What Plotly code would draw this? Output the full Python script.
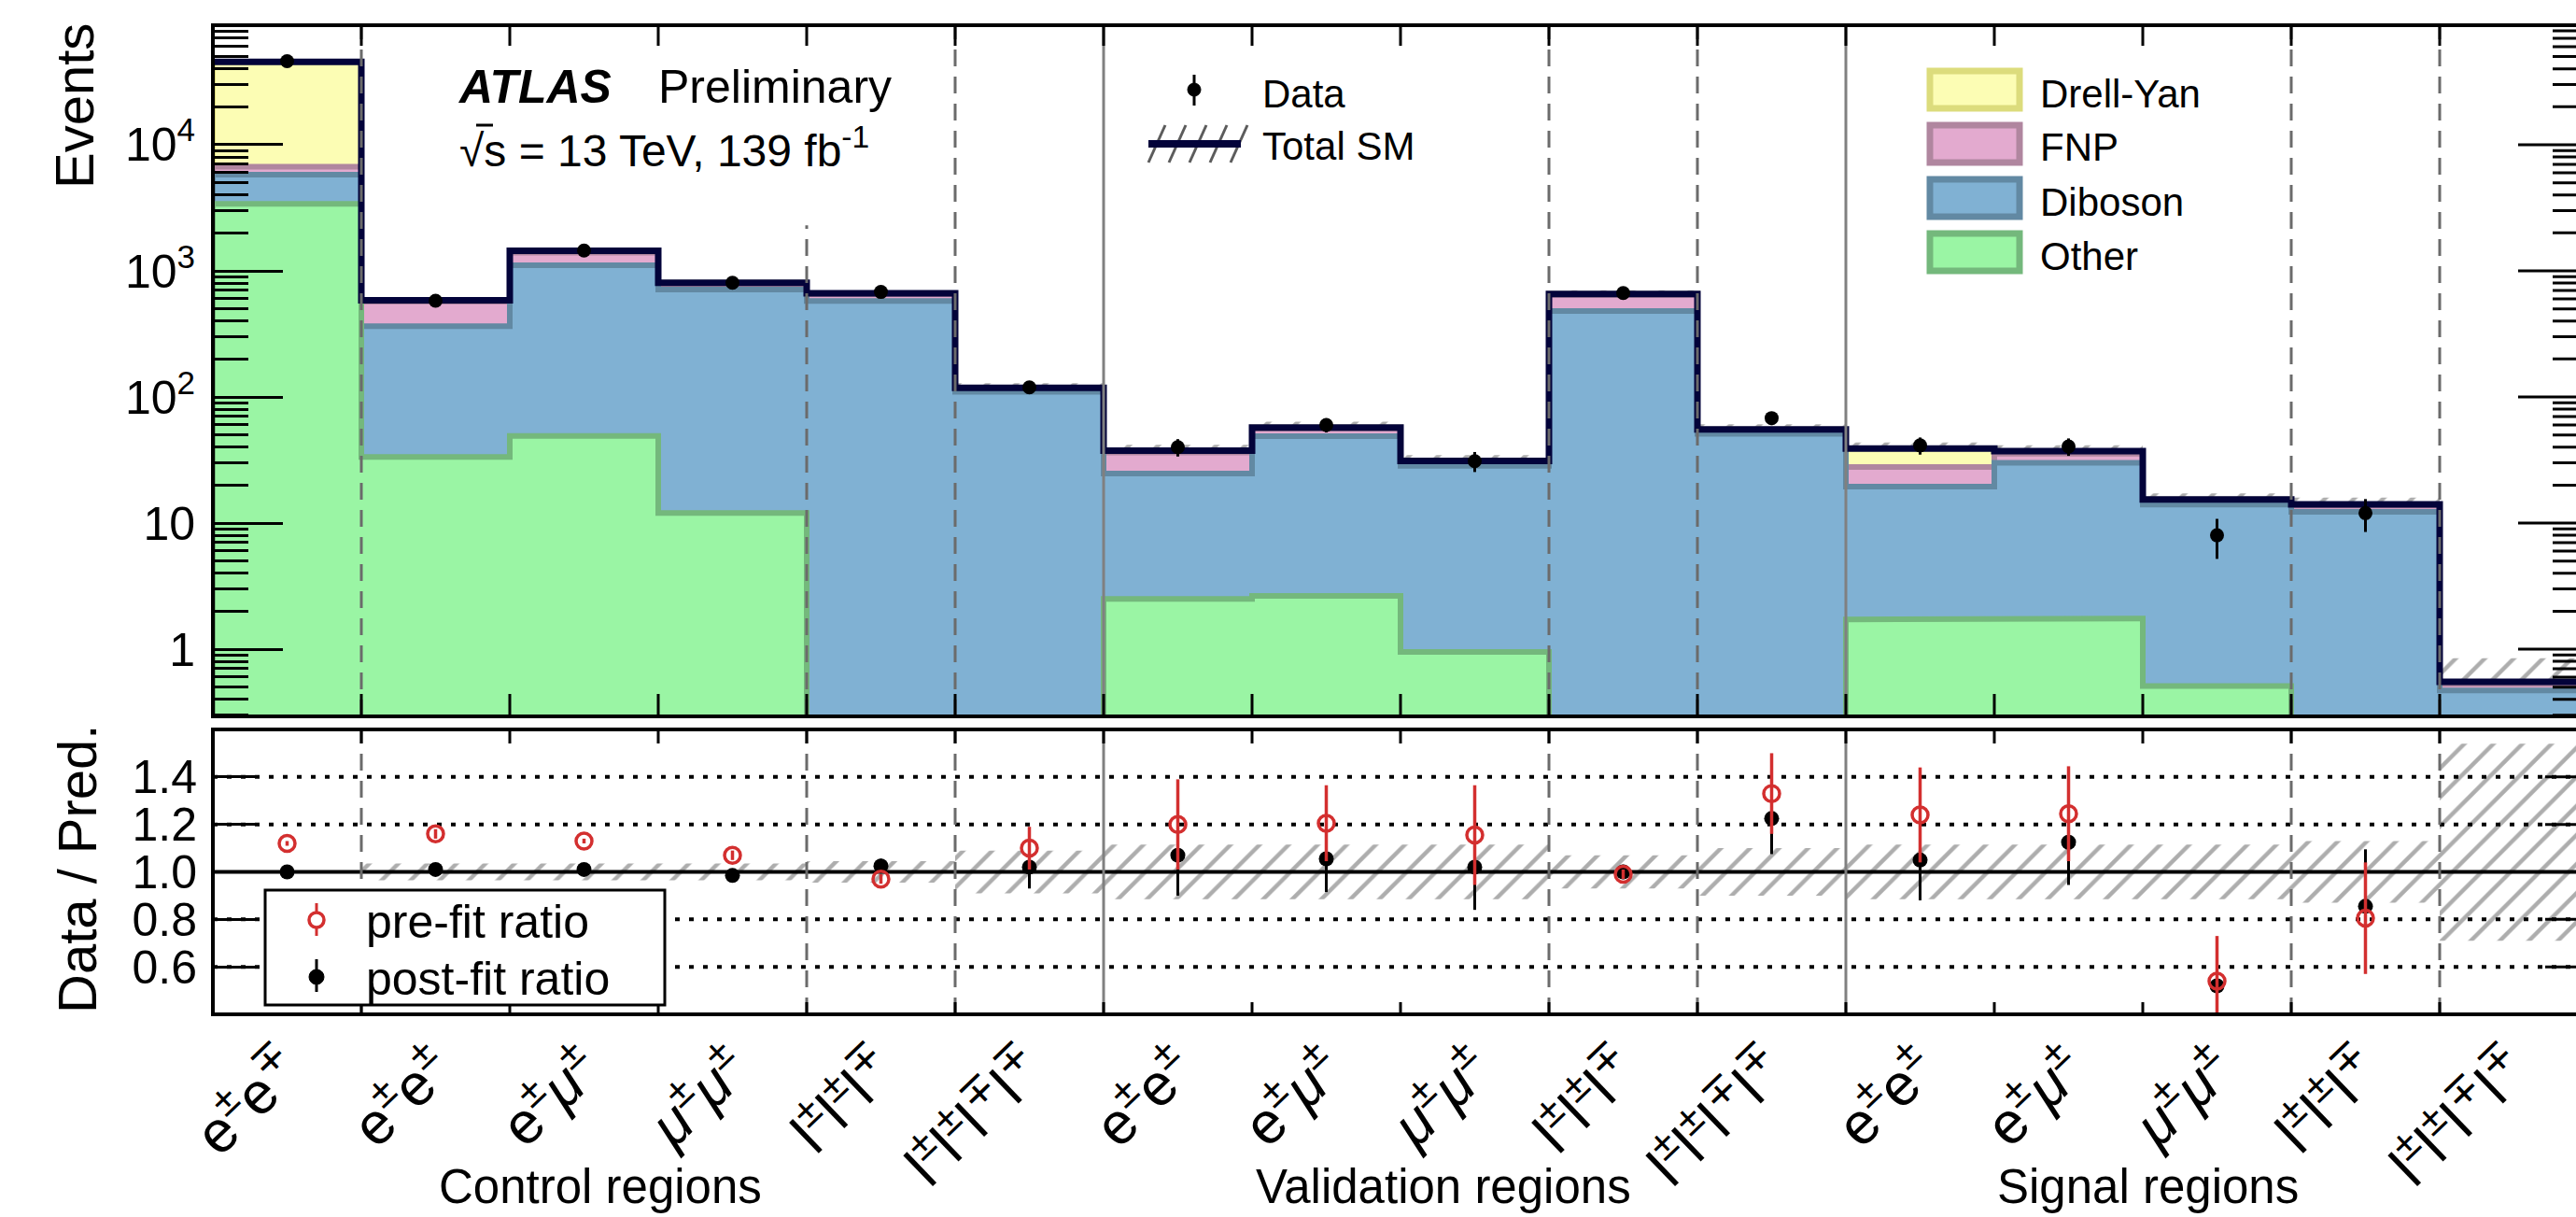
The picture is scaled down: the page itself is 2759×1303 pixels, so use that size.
import numpy as np
import plotly.graph_objects as go

# ------------------------------------------------------------------ data
bin_labels = [
    "e<sup>±</sup>e<sup>∓</sup>", "e<sup>±</sup>e<sup>±</sup>", "e<sup>±</sup><i>μ</i><sup>±</sup>",
    "<i>μ</i><sup>±</sup><i>μ</i><sup>±</sup>", "l<sup>±</sup>l<sup>±</sup>l<sup>∓</sup>",
    "l<sup>±</sup>l<sup>±</sup>l<sup>∓</sup>l<sup>∓</sup>",
    "e<sup>±</sup>e<sup>±</sup>", "e<sup>±</sup><i>μ</i><sup>±</sup>",
    "<i>μ</i><sup>±</sup><i>μ</i><sup>±</sup>", "l<sup>±</sup>l<sup>±</sup>l<sup>∓</sup>",
    "l<sup>±</sup>l<sup>±</sup>l<sup>∓</sup>l<sup>∓</sup>",
    "e<sup>±</sup>e<sup>±</sup>", "e<sup>±</sup><i>μ</i><sup>±</sup>",
    "<i>μ</i><sup>±</sup><i>μ</i><sup>±</sup>", "l<sup>±</sup>l<sup>±</sup>l<sup>∓</sup>",
    "l<sup>±</sup>l<sup>±</sup>l<sup>∓</sup>l<sup>∓</sup>",
]
region_names = ["Control regions", "Validation regions", "Signal regions"]

other    = [3400, 33.5, 49, 12, 0, 0, 2.5, 2.65, 0.95, 0, 0, 1.72, 1.75, 0.51, 0, 0]
diboson  = [2400, 331, 1058, 699, 578, 110, 22.2, 46.3, 27.5, 480, 51, 17.7, 28.3, 13.5, 12.3, 0.47]
fnp      = [900, 205, 290, 75, 75, 7, 11.5, 7, 2.2, 165, 3.5, 8.4, 5.5, 1.2, 1.5, 0.06]
drellyan = [38800, 15, 45, 20, 12, 1, 1.3, 1.2, 0.4, 11, 0.7, 11.2, 1.6, 0.2, 0.3, 0.02]

data_obs = [46000, 580, 1450, 805, 680, 119, 40, 60, 31, 667, 68, 41.3, 40.5, 8, 12, None]
data_err = [214, 24, 38, 28, 26, 11, 6.3, 7.7, 5.6, 26, 8.2, 6.4, 6.4, 2.8, 3.5, None]

# relative uncertainty on the total SM prediction
unc_up = [0.005, 0.035, 0.035, 0.035, 0.045, 0.09, 0.115, 0.115, 0.115, 0.07, 0.1, 0.115, 0.115, 0.115, 0.13, 0.54]
unc_dn = [0.005, 0.035, 0.035, 0.035, 0.045, 0.09, 0.115, 0.115, 0.115, 0.07, 0.1, 0.115, 0.115, 0.115, 0.13, 0.29]

prefit_ratio  = [1.12, 1.16, 1.13, 1.07, 0.97, 1.10, 1.20, 1.205, 1.155, 0.99, 1.33, 1.24, 1.245, 0.54, 0.805, None]
prefit_err    = [0.01, 0.02, 0.01, 0.02, 0.02, 0.09, 0.19, 0.16, 0.21, 0.02, 0.17, 0.2, 0.2, 0.19, 0.235, None]
postfit_ratio = [1.00, 1.01, 1.01, 0.985, 1.025, 1.02, 1.07, 1.055, 1.02, 1.0, 1.225, 1.05, 1.125, 0.52, 0.855, None]
postfit_err   = [0.005, 0.02, 0.01, 0.02, 0.03, 0.09, 0.17, 0.14, 0.18, 0.03, 0.15, 0.17, 0.18, 0.19, 0.24, None]

# ------------------------------------------------------------------ layout constants
W, H = 2759, 1303
L = 228                      # left edge of the frame
PW = W - L
NB = len(bin_labels)
BIN_PX = 159.0
X_MAX = PW / BIN_PX          # the frame runs past the right edge of the page

LOG_TOP, LOG_BOT = 4.948, -0.533
R_LO, R_HI = 0.4, 1.6
TOP_PX, MID1_PX, MID2_PX, BOT_PX = 27, 767, 781, 1086
DEC_PX = (MID1_PX - TOP_PX) / (LOG_TOP - LOG_BOT)
R_PX = (BOT_PX - MID2_PX) / (R_HI - R_LO)

FONT = "Liberation Sans"
NAVY = "#03033a"
RED = "#d32f2f"
SEP_GRAY = "#6b6b6b"
HATCH_GRAY = "#5c5c5c"

components = [  # drawn from the top of the stack downwards
    ("Drell-Yan", drellyan, "#fcfdb4", "#dcdc7c"),
    ("FNP", fnp, "#e3aacf", "#b0869f"),
    ("Diboson", diboson, "#80b1d3", "#6289a3"),
    ("Other", other, "#9af5a4", "#74b87c"),
]


def px_x(px):
    return (px - L) / PW


def px_y(py):
    return (H - py) / H


edges = np.arange(NB + 1)
centers = edges[:-1] + 0.5
FLOOR = 1e-3

fig = go.Figure()

# ------------------------------------------------------------------ stacked backgrounds
stack = np.zeros(NB)
cumulative = []
for name, vals, fill, line in components[::-1]:
    stack = stack + np.array(vals, dtype=float)
    cumulative.append((name, stack.copy(), fill, line))
cumulative = cumulative[::-1]
total = cumulative[0][1]


def step_xy(vals):
    xs, ys = [], []
    for i, v in enumerate(vals):
        v = max(v, FLOOR)
        xs += [edges[i], edges[i + 1]]
        ys += [v, v]
    return xs, ys


for name, cum, fill, line in cumulative:
    xs, ys = step_xy(cum)
    fig.add_trace(go.Scatter(
        x=[0] + xs + [NB, 0], y=[FLOOR] + ys + [FLOOR, FLOOR],
        fill="toself", fillcolor=fill, mode="lines", line=dict(width=0),
        hoverinfo="skip", showlegend=False, xaxis="x", yaxis="y"))
    fig.add_trace(go.Scatter(
        x=[0] + xs + [NB], y=[FLOOR] + ys + [FLOOR], mode="lines",
        line=dict(color=line, width=6), hoverinfo="skip", showlegend=False,
        xaxis="x", yaxis="y"))

# total SM line
xs, ys = step_xy(total)
fig.add_trace(go.Scatter(x=xs, y=ys, mode="lines", line=dict(color=NAVY, width=7),
                         showlegend=False, hoverinfo="skip", xaxis="x", yaxis="y"))

hatch = dict(color="rgba(0,0,0,0)",
             pattern=dict(shape="/", fgcolor=HATCH_GRAY, size=22, solidity=0.2, fillmode="overlay"),
             line=dict(width=0))
fig.add_trace(go.Bar(
    x=centers, base=total * (1 - np.array(unc_dn)),
    y=total * (np.array(unc_up) + np.array(unc_dn)), width=1.0,
    marker=hatch, showlegend=False, hoverinfo="skip", xaxis="x", yaxis="y"))

# ratio band
fig.add_trace(go.Bar(
    x=centers, base=1 - np.array(unc_dn), y=np.array(unc_up) + np.array(unc_dn), width=1.0,
    marker=hatch, showlegend=False, hoverinfo="skip", xaxis="x2", yaxis="y2"))

# ------------------------------------------------------------------ region separators
dashed_edges = [1, 4, 5, 9, 10, 14, 15]
solid_edges = [6, 11]
dashed_top = {4: 2300}
y_top, y_bot = 10 ** LOG_TOP, 10 ** LOG_BOT


def seg_trace(xp, yp, color, width, dash, xa, ya):
    return go.Scatter(x=xp, y=yp, mode="lines", line=dict(color=color, width=width, dash=dash),
                      hoverinfo="skip", showlegend=False, xaxis=xa, yaxis=ya)


# ratio reference lines
xl, yl = [], []
for r in [0.6, 0.8, 1.2, 1.4]:
    xl += [0, NB, None]
    yl += [r, r, None]
fig.add_trace(seg_trace(xl, yl, "black", 4, "5px,10px", "x2", "y2"))
fig.add_trace(seg_trace([0, NB], [1, 1], "black", 4, None, "x2", "y2"))

for ya, lo, hi in [("y", y_bot, y_top), ("y2", R_LO, R_HI)]:
    xa = "x" if ya == "y" else "x2"
    xd, yd = [], []
    for k in dashed_edges:
        top = dashed_top.get(k, hi) if ya == "y" else hi
        xd += [k, k, None]
        yd += [lo, top, None]
    fig.add_trace(seg_trace(xd, yd, SEP_GRAY, 3, "18px,11px", xa, ya))
    xs_, ys_ = [], []
    for k in solid_edges:
        xs_ += [k, k, None]
        ys_ += [lo, hi, None]
    fig.add_trace(seg_trace(xs_, ys_, "#808080", 3, None, xa, ya))

# ------------------------------------------------------------------ data points
fig.add_trace(go.Scatter(
    x=centers, y=data_obs, mode="markers",
    marker=dict(color="black", size=15),
    error_y=dict(type="data", array=data_err, color="black", thickness=3, width=0),
    showlegend=False, hoverinfo="skip", xaxis="x", yaxis="y"))

fig.add_trace(go.Scatter(
    x=centers, y=postfit_ratio, mode="markers",
    marker=dict(color="black", size=16),
    error_y=dict(type="data", array=postfit_err, color="black", thickness=3, width=0),
    showlegend=False, hoverinfo="skip", xaxis="x2", yaxis="y2"))
fig.add_trace(go.Scatter(
    x=centers, y=prefit_ratio, mode="markers",
    marker=dict(color=RED, size=17, symbol="circle-open", line=dict(color=RED, width=3.5)),
    error_y=dict(type="data", array=prefit_err, color=RED, thickness=3.5, width=0),
    showlegend=False, hoverinfo="skip", xaxis="x2", yaxis="y2"))

# ------------------------------------------------------------------ tick marks on the frame
def ticks_trace(segs, xa, ya):
    xp, yp = [], []
    for (x0, y0, x1, y1) in segs:
        xp += [x0, x1, None]
        yp += [y0, y1, None]
    return go.Scatter(x=xp, y=yp, mode="lines", line=dict(color="black", width=3),
                      hoverinfo="skip", showlegend=False, xaxis=xa, yaxis=ya)


segs = []
major_len, minor_len = 75 / BIN_PX, 38 / BIN_PX
for d in range(-1, 5):
    for m in range(1, 10):
        v = m * 10.0 ** d
        if not (y_bot <= v <= y_top):
            continue
        ln = major_len if m == 1 else minor_len
        segs.append((NB - ln, v, NB, v))
for k in range(1, NB):
    segs.append((k, 10 ** (LOG_TOP - 22 / DEC_PX), k, y_top))
    segs.append((k, y_bot, k, 10 ** (LOG_BOT + 24 / DEC_PX)))
fig.add_trace(ticks_trace(segs, "x", "y"))

segs = []
for r in [0.6, 0.8, 1.0, 1.2, 1.4]:
    segs.append((NB - 46 / BIN_PX, r, NB, r))
for k in range(1, NB):
    segs.append((k, R_HI - 15 / R_PX, k, R_HI))
    segs.append((k, R_LO, k, R_LO + 13 / R_PX))
fig.add_trace(ticks_trace(segs, "x2", "y2"))

# ------------------------------------------------------------------ axes
minor_vals = [m * 10.0 ** d for d in range(-1, 5) for m in range(2, 10) if y_bot <= m * 10.0 ** d <= y_top]
fig.update_layout(
    width=W, height=H, margin=dict(l=L, r=0, t=0, b=0),
    paper_bgcolor="white", plot_bgcolor="white", barmode="overlay", showlegend=False,
    font=dict(family=FONT, color="black"),
    xaxis=dict(domain=[0, 1], range=[0, X_MAX], showticklabels=False, ticks="",
               showgrid=False, zeroline=False, showline=False, anchor="y"),
    yaxis=dict(domain=[px_y(MID1_PX), px_y(TOP_PX)], type="log", range=[LOG_BOT, LOG_TOP],
               tickmode="array", tickvals=[1, 10, 100, 1000, 10000],
               ticktext=["1", "10", "10<sup>2</sup>", "10<sup>3</sup>", "10<sup>4</sup>"],
               ticks="inside", ticklen=75, tickwidth=3, tickcolor="black",
               minor=dict(tickvals=minor_vals, ticks="inside", ticklen=38, tickwidth=3, tickcolor="black"),
               ticklabelstandoff=18, tickfont=dict(size=50, family=FONT),
               showgrid=False, zeroline=False, showline=False, anchor="x"),
    xaxis2=dict(domain=[0, 1], range=[0, X_MAX], tickmode="array", tickvals=centers,
                ticktext=bin_labels, tickangle=-44, ticks="", ticklabelstandoff=8,
                tickfont=dict(size=63, family=FONT),
                showgrid=False, zeroline=False, showline=False, anchor="y2"),
    yaxis2=dict(domain=[px_y(BOT_PX), px_y(MID2_PX)], range=[R_LO, R_HI],
                tickmode="array", tickvals=[0.6, 0.8, 1.0, 1.2, 1.4],
                ticktext=["0.6", "0.8", "1.0", "1.2", "1.4"],
                ticks="inside", ticklen=46, tickwidth=3, tickcolor="black",
                ticklabelstandoff=16, tickfont=dict(size=50, family=FONT),
                showgrid=False, zeroline=False, showline=False, anchor="x2"),
)

shapes = []
ann = []


def pline(x0, y0, x1, y1, color="black", width=4):
    shapes.append(dict(type="line", xref="paper", yref="paper",
                       x0=px_x(x0), y0=px_y(y0), x1=px_x(x1), y1=px_y(y1),
                       line=dict(color=color, width=width)))


def text(s, x, y, size, xanchor="left", angle=0, yanchor="middle"):
    ann.append(dict(text=s, x=px_x(x), y=px_y(y), xref="paper", yref="paper",
                    xanchor=xanchor, yanchor=yanchor, showarrow=False, textangle=angle,
                    font=dict(size=size, family=FONT, color="black")))


# frames
for top, bot in [(TOP_PX, MID1_PX), (MID2_PX, BOT_PX)]:
    pline(L, top, W + 20, top)
    pline(L, bot, W + 20, bot)
    pline(L, top - 2, L, bot + 2)

# axis titles
text("Events", 80, 114, 58, xanchor="center", angle=-90)
text("Data / Pred.", 82, 931, 58, xanchor="center", angle=-90)

# region labels
for name, cx in zip(region_names, [643, 1546, 2300]):
    text(name, cx, 1270, 51, xanchor="center")

# ATLAS label
text("<b><i>ATLAS</i></b>", 488, 93, 50)
text("Preliminary", 703, 93, 50)
text("√s = 13 TeV, 139 fb<sup>-1</sup>", 490, 158, 48)
pline(510, 134, 528, 134, width=3)   # bar of the square root

# data / total SM legend
shapes.append(dict(type="circle", xref="paper", yref="paper",
                   x0=px_x(1272), x1=px_x(1286), y0=px_y(89), y1=px_y(103),
                   fillcolor="black", line=dict(color="black", width=1)))
pline(1279, 80, 1279, 113, width=3)
text("Data", 1350, 100, 42)
for i in range(5):
    x0 = 1230 + i * 22
    pline(x0, 174, x0 + 18, 134, color=HATCH_GRAY, width=3)
pline(1230, 154, 1329, 154, color=NAVY, width=8)
text("Total SM", 1350, 157, 42)

# background legend
for i, (name, vals, fill, line) in enumerate(components):
    cy = 96 + i * 58
    shapes.append(dict(type="rect", xref="paper", yref="paper",
                       x0=px_x(2067), x1=px_x(2163), y0=px_y(cy - 20), y1=px_y(cy + 20),
                       fillcolor=fill, line=dict(color=line, width=7)))
    text(name, 2183, cy + 4, 42)

# ratio legend
shapes.append(dict(type="rect", xref="paper", yref="paper",
                   x0=px_x(284), x1=px_x(712), y0=px_y(953), y1=px_y(1076),
                   fillcolor="white", line=dict(color="black", width=3)))
pline(339, 967, 339, 1002, color=RED, width=3)
shapes.append(dict(type="circle", xref="paper", yref="paper",
                   x0=px_x(331), x1=px_x(347), y0=px_y(977), y1=px_y(993),
                   fillcolor="white", line=dict(color=RED, width=3.5)))
text("pre-fit ratio", 390, 987, 50)
pline(339, 1027, 339, 1062, color="black", width=3)
shapes.append(dict(type="circle", xref="paper", yref="paper",
                   x0=px_x(331), x1=px_x(347), y0=px_y(1038), y1=px_y(1054),
                   fillcolor="black", line=dict(color="black", width=1)))
text("post-fit ratio", 390, 1048, 50)

fig.update_layout(shapes=shapes, annotations=ann)
fig.write_html("out.html")
